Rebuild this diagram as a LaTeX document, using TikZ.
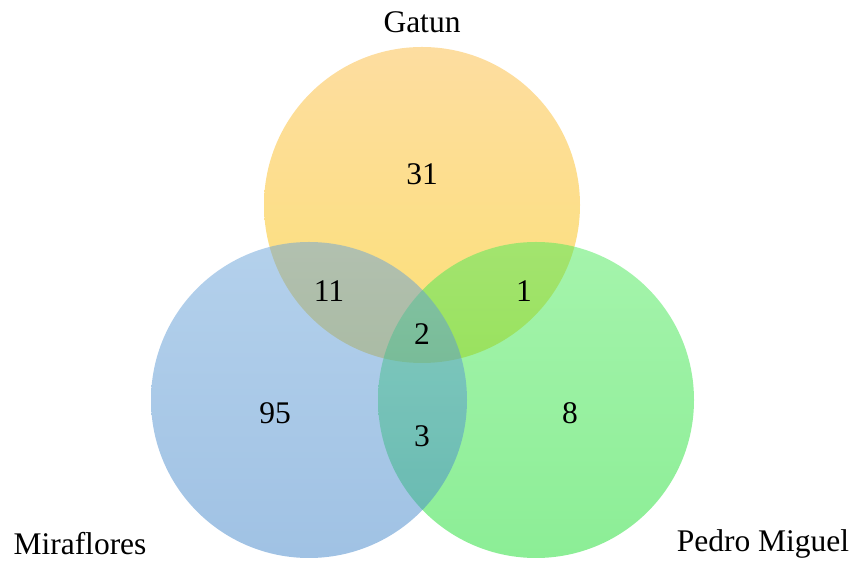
\documentclass[tikz,border=0pt]{standalone}
\usepackage{fontspec}
\setmainfont{Liberation Serif}
\definecolor{yTop}{RGB}{253,221,160}
\definecolor{yBot}{RGB}{252,224,118}
\definecolor{bTop}{RGB}{105,163,217}
\definecolor{bBot}{RGB}{65,133,201}
\definecolor{gTop}{RGB}{75,233,89}
\definecolor{gBot}{RGB}{25,221,45}
\tikzset{
  setcircle/.style={circle, minimum size=316pt, inner sep=0pt, draw=none},
  lbl/.style={font=\fontsize{31.5}{36}\selectfont, inner sep=0pt, text=black},
}
\begin{document}
\begin{tikzpicture}[x=1pt,y=1pt]
\useasboundingbox (0,0) rectangle (854,561);
\node[setcircle, top color=yTop, bottom color=yBot] (gatun) at (422,356) {};
\node[setcircle, top color=gTop, bottom color=gBot, fill opacity=0.5] (pedro) at (536,161) {};
\node[setcircle, top color=bTop, bottom color=bBot, fill opacity=0.5] (mira) at (309,161) {};
\node[lbl] (tG) at (422,539) {Gatun};
\node[lbl] (tM) at (80,17) {Miraflores};
\node[lbl] (tP) at (763,17) {Pedro Miguel};
\node[lbl] (n31) at (422,387) {31};
\node[lbl] (n11) at (329,270) {11};
\node[lbl] (n1) at (524,270) {1};
\node[lbl] (n2) at (422,227) {2};
\node[lbl] (n95) at (275,148) {95};
\node[lbl] (n3) at (422,125) {3};
\node[lbl] (n8) at (570,148) {8};
\end{tikzpicture}
\end{document}
